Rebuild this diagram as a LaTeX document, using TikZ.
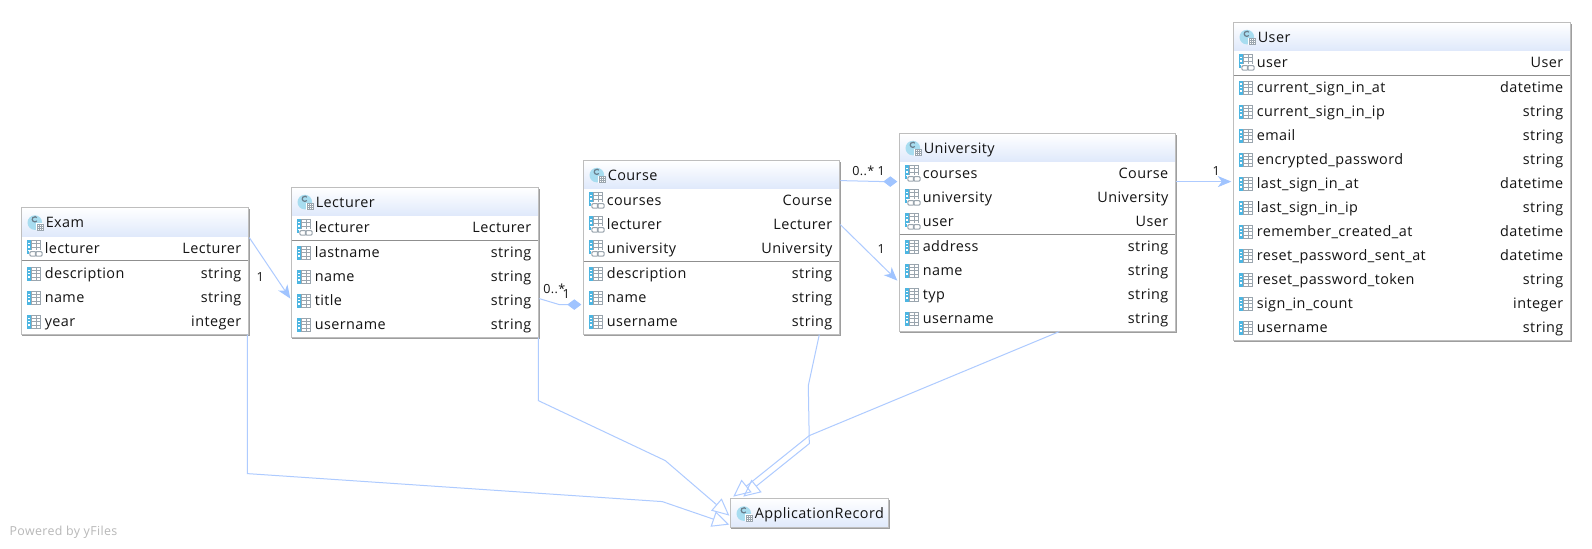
\documentclass[tikz,border=0pt]{standalone}
\usepackage{fontspec}
\setmainfont{Open Sans}[LetterSpace=3]
\usetikzlibrary{arrows.meta,calc}
\definecolor{edgec}{HTML}{AECBFF}
\definecolor{tipc}{HTML}{A0C4FF}
\definecolor{framec}{HTML}{BEBEBE}
\definecolor{shadowc}{HTML}{9E9E9E}
\definecolor{sepc}{HTML}{8F8F8F}
\definecolor{titlec}{HTML}{DFE9FB}
\definecolor{textc}{HTML}{141414}
\definecolor{iconblue}{HTML}{4DB6E2}
\definecolor{icongray}{HTML}{9AA5AE}
\definecolor{iconlight}{HTML}{A8DDF0}
\definecolor{iconc}{HTML}{6A7E8C}
\tikzset{
  x=0.75pt,y=-0.75pt,
  boxstyle/.style={draw=framec,line width=0.6pt,rectangle,inner sep=0pt,outer sep=0pt},
  txt/.style={inner sep=0pt,outer sep=0pt,text=textc,font=\fontsize{10.8}{12}\selectfont},
  lefttxt/.style={txt,anchor=base west},
  righttxt/.style={txt,anchor=base east},
  mult/.style={inner sep=0pt,outer sep=0pt,text=textc,font=\fontsize{9.4}{11}\selectfont},
  edge/.style={draw=edgec,line width=0.75pt},
  assoc/.style={edge,-{Stealth[length=10.1pt,width=8.3pt,inset=3pt,fill=tipc,color=tipc]}},
  comp/.style={edge,-{Diamond[length=10.5pt,width=7.9pt,fill=tipc,color=tipc]}},
  gener/.style={edge,-{Triangle[open,length=12.8pt,width=12pt,line width=0.75pt]}},
}
% field icon, #1 = left, #2 = centre y
\newcommand{\fieldicon}[2]{%
  \fill[white] (#1,#2-7) rectangle (#1+14,#2+7);
  \fill[iconblue] (#1,#2-7) rectangle (#1+5,#2+7);
  \draw[icongray,line width=0.6pt] (#1+5,#2-6.6) rectangle (#1+14,#2+6.6);
  \foreach \u in {-3.4,0,3.4}{\draw[icongray,line width=0.4pt] (#1+5,#2+\u) -- (#1+14,#2+\u);
    \fill[white] (#1+1.4,#2+\u-.7) rectangle (#1+3.4,#2+\u+.7);}
  \draw[icongray,line width=0.4pt] (#1+9.5,#2-6.6) -- (#1+9.5,#2+6.6);
}
% reference icon
\newcommand{\reficon}[2]{%
  \fieldicon{#1}{#2-1.5}
  \fill[white] (#1+2,#2+1.5) rectangle (#1+16.5,#2+8.5);
  \draw[icongray,line width=0.8pt,rounded corners=1pt] (#1+3,#2+3) rectangle (#1+9.4,#2+7.6);
  \draw[icongray,line width=0.8pt,rounded corners=1pt] (#1+8.6,#2+3) rectangle (#1+15.4,#2+7.6);
}
% class icon, #1,#2 centre
\newcommand{\classicon}[2]{%
  \fill[iconlight] (#1,#2) circle[radius=7.3];
  \draw[iconc,line width=0.9pt] (#1+2,#2-1.6) arc[start angle=40,end angle=320,radius=2.6];
  \fill[white] (#1+1.5,#2+.8) rectangle (#1+8.6,#2+7.8);
  \draw[icongray,line width=0.5pt] (#1+2.2,#2+1.5) rectangle (#1+8.2,#2+7.3);
  \draw[icongray,line width=0.3pt] (#1+2.2,#2+3.4) -- (#1+8.2,#2+3.4) (#1+2.2,#2+5.3) -- (#1+8.2,#2+5.3) (#1+4.2,#2+1.5) -- (#1+4.2,#2+7.3) (#1+6.2,#2+1.5) -- (#1+6.2,#2+7.3);
}
% #1 name, #2 left, #3 top, #4 right, #5 bottom, #6 title bottom, #7 title
\newcommand{\umlbox}[7]{%
  \pgfmathsetmacro\bxw{(#4-#2)*0.75}\pgfmathsetmacro\bxh{(#5-#3)*0.75}
  \pgfmathsetmacro\bxcx{(#4+#2)/2}\pgfmathsetmacro\bxcy{(#5+#3)/2}
  \pgfmathsetmacro\bxty{(#3+#6)/2}
  \fill[shadowc] (#2+1,#3+1) rectangle (#4+1.8,#5+1.8);
  \fill[white] (#2,#3) rectangle (#4,#5);
  \shade[top color=white,bottom color=titlec] (#2,#3) rectangle (#4,#6);
  \node[boxstyle,minimum width=\bxw pt,minimum height=\bxh pt] (#1) at (\bxcx,\bxcy) {};
  \classicon{#2+13.5}{\bxty+.5}
  \node[lefttxt] (#1-title) at (#2+24.5,\bxty+5.5) {#7};
}
\newcommand{\sepline}[3]{\draw[sepc,line width=0.75pt] (#1+.4,#3) -- (#2-.4,#3);}
% #1 box name, #2 row key, #3 left, #4 right, #5 y, #6 label, #7 type
\newcommand{\attrrow}[7]{%
  \fieldicon{#3+5.5}{#5}
  \node[lefttxt] (#1-#2-l) at (#3+23.5,#5+5) {#6};
  \node[righttxt] (#1-#2-r) at (#4-7,#5+5) {#7};
}
\newcommand{\refrow}[7]{%
  \reficon{#3+5.5}{#5}
  \node[lefttxt] (#1-#2-l) at (#3+23.5,#5+5) {#6};
  \node[righttxt] (#1-#2-r) at (#4-7,#5+5) {#7};
}
\begin{document}
\begin{tikzpicture}
\useasboundingbox (0.7,0.4) rectangle (1592.7,549.4);
\fill[white] (0.7,0.4) rectangle (1592.7,549.4);

\coordinate (b1) at (248,474); \coordinate (b2) at (663,502);
\coordinate (b3) at (539,401); \coordinate (b4) at (666,461);
\coordinate (b5) at (809,386); \coordinate (b6) at (810,444);
\coordinate (b7) at (810,436);

% Exam
\umlbox{exam}{22}{208}{249}{335}{237}{Exam}
\refrow{exam}{lecturer}{22}{249}{249}{lecturer}{Lecturer}
\sepline{22}{249}{261}
\attrrow{exam}{description}{22}{249}{274}{description}{string}
\attrrow{exam}{name}{22}{249}{298}{name}{string}
\attrrow{exam}{year}{22}{249}{322}{year}{integer}

% Lecturer
\umlbox{lecturer}{292}{188}{539}{338}{216}{Lecturer}
\refrow{lecturer}{lecturer}{292}{539}{228}{lecturer}{Lecturer}
\sepline{292}{539}{240.5}
\attrrow{lecturer}{lastname}{292}{539}{253}{lastname}{string}
\attrrow{lecturer}{name}{292}{539}{277}{name}{string}
\attrrow{lecturer}{title}{292}{539}{301}{title}{string}
\attrrow{lecturer}{username}{292}{539}{325}{username}{string}

% Course
\umlbox{course}{584}{161}{840}{335}{189}{Course}
\refrow{course}{courses}{584}{840}{201}{courses}{Course}
\refrow{course}{lecturer}{584}{840}{225}{lecturer}{Lecturer}
\refrow{course}{university}{584}{840}{249}{university}{University}
\sepline{584}{840}{261.5}
\attrrow{course}{description}{584}{840}{274}{description}{string}
\attrrow{course}{name}{584}{840}{298}{name}{string}
\attrrow{course}{username}{584}{840}{322}{username}{string}

% University
\umlbox{university}{900}{134}{1176}{332}{162}{University}
\refrow{university}{courses}{900}{1176}{174}{courses}{Course}
\refrow{university}{university}{900}{1176}{198}{university}{University}
\refrow{university}{user}{900}{1176}{222}{user}{User}
\sepline{900}{1176}{234.5}
\attrrow{university}{address}{900}{1176}{247}{address}{string}
\attrrow{university}{name}{900}{1176}{271}{name}{string}
\attrrow{university}{typ}{900}{1176}{295}{typ}{string}
\attrrow{university}{username}{900}{1176}{319}{username}{string}

% User
\umlbox{user}{1234}{23}{1571}{341}{51}{User}
\refrow{user}{user}{1234}{1571}{63}{user}{User}
\sepline{1234}{1571}{75.5}
\attrrow{user}{a}{1234}{1571}{88}{current\_sign\_in\_at}{datetime}
\attrrow{user}{b}{1234}{1571}{112}{current\_sign\_in\_ip}{string}
\attrrow{user}{c}{1234}{1571}{136}{email}{string}
\attrrow{user}{d}{1234}{1571}{160}{encrypted\_password}{string}
\attrrow{user}{e}{1234}{1571}{184}{last\_sign\_in\_at}{datetime}
\attrrow{user}{f}{1234}{1571}{208}{last\_sign\_in\_ip}{string}
\attrrow{user}{g}{1234}{1571}{232}{remember\_created\_at}{datetime}
\attrrow{user}{h}{1234}{1571}{256}{reset\_password\_sent\_at}{datetime}
\attrrow{user}{i}{1234}{1571}{280}{reset\_password\_token}{string}
\attrrow{user}{j}{1234}{1571}{304}{sign\_in\_count}{integer}
\attrrow{user}{k}{1234}{1571}{328}{username}{string}

% ApplicationRecord
\umlbox{apprec}{731}{499}{889}{528}{528}{ApplicationRecord}

% connectors
\draw[assoc] ($(exam.north east)+(1,30)$) -- ($(lecturer.north west)+(-1,111)$);
\draw[comp] ($(lecturer.north east)+(1,111)$) -- ($(course.north west)+(-24,144)$) -- ($(course.north west)+(-2,144)$);
\draw[comp] ($(course.north east)+(1,20)$) -- ($(university.north west)+(-16,48)$) -- ($(university.north west)+(-2,48)$);
\draw[assoc] ($(course.north east)+(1,64)$) -- ($(university.north west)+(-2,147)$);
\draw[assoc] ($(university.north east)+(1,48)$) -- ($(user.north west)+(-2,159)$);

\draw[gener] ($(exam.south east)+(-1,0)$) -- (b1) -- (b2) -- ($(apprec.south west)+(-1,-3)$);
\draw[gener] ($(lecturer.south east)+(0,0)$) -- (b3) -- (b4) -- ($(apprec.north west)+(-1,17)$);
\draw[gener] ($(course.south east)+(-20,0)$) -- (b5) -- (b6) -- ($(apprec.north west)+(13,-2)$);
\draw[gener] ($(university.south west)+(160,0)$) -- (b7) -- ($(apprec.north west)+(3,-2)$);

% multiplicities
\node[mult] (m1) at (261,277) {1};
\node[mult] (m2) at (555,289) {0..*};
\node[mult] (m3) at (567,294) {1};
\node[mult] (m4) at (864,171) {0..*};
\node[mult] (m5) at (882,171) {1};
\node[mult] (m6) at (882,249) {1};
\node[mult] (m7) at (1217,171) {1};

\node[inner sep=0pt,anchor=base west,text=black!28,font=\fontsize{9.3}{11}\selectfont] (powered) at (10,536) {Powered by yFiles};
\end{tikzpicture}
\end{document}
